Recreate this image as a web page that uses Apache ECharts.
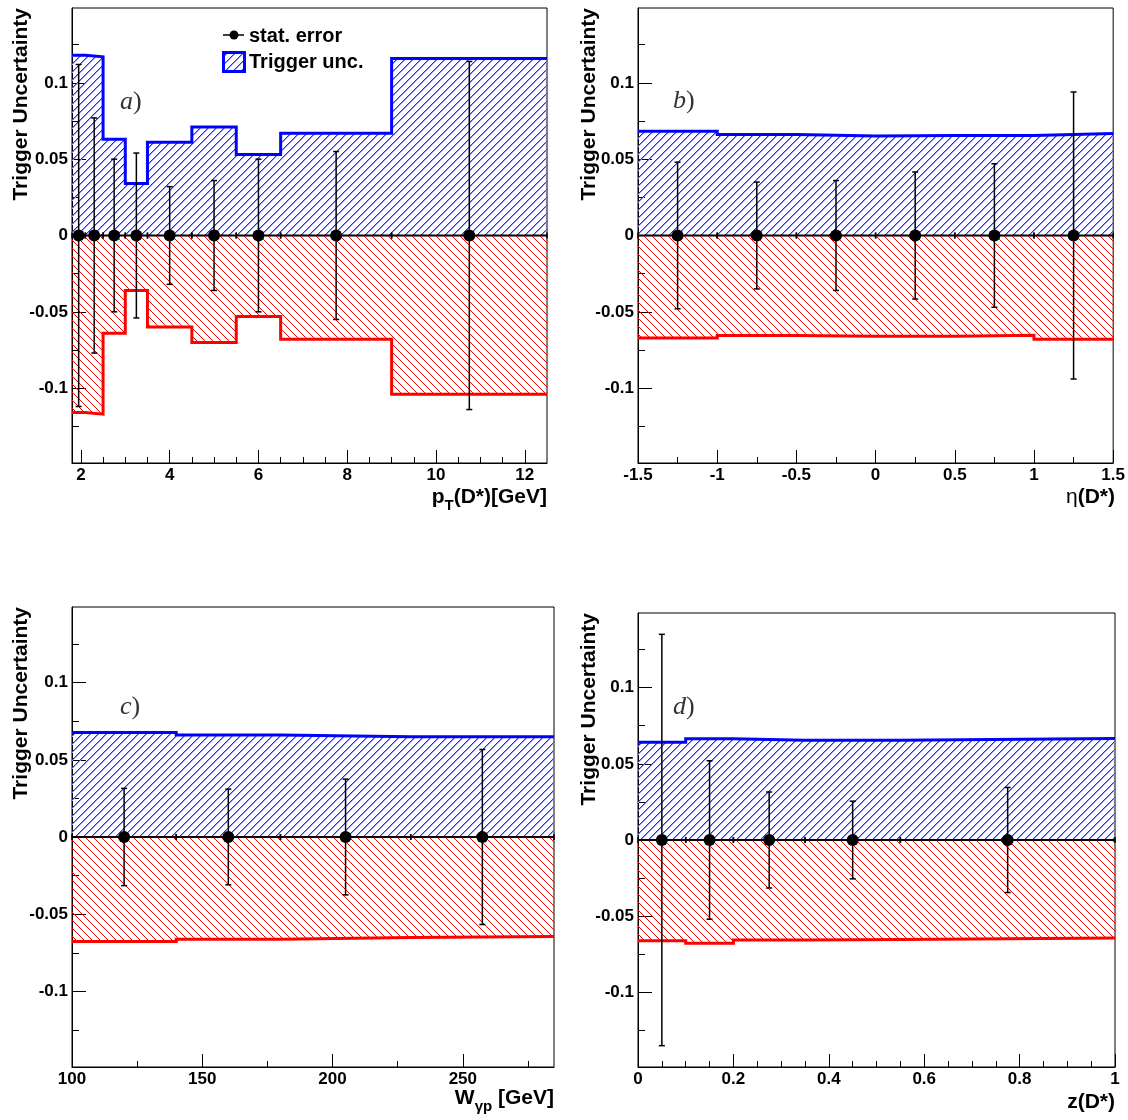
<!DOCTYPE html>
<html><head><meta charset="utf-8">
<script src="https://cdn.jsdelivr.net/npm/echarts@6/dist/echarts.min.js"></script>
<style>html,body{margin:0;padding:0;background:#fff}#c{width:1128px;height:1120px}</style>
</head><body><div id="c"></div>
<script>
// ---------- DATA ----------
// (a) pT(D*) [GeV]
const ptEdges   = [1.8, 2.1, 2.5, 3.0, 3.5, 4.5, 5.5, 6.5, 9.0, 12.5];
const ptCenters = [1.95, 2.3, 2.75, 3.25, 4.0, 5.0, 6.0, 7.75, 10.75];
const ptUp      = [0.118, 0.117, 0.063, 0.034, 0.061, 0.071, 0.053, 0.067, 0.116];
const ptDown    = [-0.116, -0.117, -0.064, -0.036, -0.060, -0.070, -0.053, -0.068, -0.104];
const ptStat    = [0.112, 0.077, 0.050, 0.054, 0.032, 0.036, 0.050, 0.055, 0.114];
// (b) eta(D*)
const etaEdges   = [-1.5, -1.0, -0.5, 0.0, 0.5, 1.0, 1.5];
const etaCenters = [-1.25, -0.75, -0.25, 0.25, 0.75, 1.25];
const etaUp      = [0.0683, 0.0662, 0.0651, 0.0655, 0.0655, 0.0668];
const etaDown    = [-0.0672, -0.0655, -0.0660, -0.0660, -0.0653, -0.0680];
const etaStat    = [0.048, 0.035, 0.036, 0.0416, 0.047, 0.094];
// (c) W_gp [GeV]
const wEdges   = [100, 140, 180, 230, 285];
const wCenters = [120, 160, 205, 257.5];
const wUp      = [0.0677, 0.0660, 0.0649, 0.0649];
const wDown    = [-0.0677, -0.0662, -0.0651, -0.0645];
const wStat    = [0.0315, 0.031, 0.0375, 0.0567];
// (d) z(D*)
const zEdges   = [0, 0.1, 0.2, 0.35, 0.55, 1.0];
const zCenters = [0.05, 0.15, 0.275, 0.45, 0.775];
const zUp      = [0.0642, 0.0664, 0.0655, 0.0655, 0.0666];
const zDown    = [-0.0662, -0.0677, -0.0657, -0.0653, -0.0644];
const zStat    = [0.135, 0.052, 0.0315, 0.0255, 0.0345];

// tick labels / positions
const yMajor = [-0.1, -0.05, 0, 0.05, 0.1];
const yMinor = [-0.125, -0.075, -0.025, 0.025, 0.075, 0.125];
const ptMajor = [2, 4, 6, 8, 10, 12];
const ptMinor = [2.5, 3, 3.5, 4.5, 5, 5.5, 6.5, 7, 7.5, 8.5, 9, 9.5, 10.5, 11, 11.5];
const etaMajor = [-1.5, -1, -0.5, 0, 0.5, 1, 1.5];
const etaMinor = [-1.25, -0.75, -0.25, 0.25, 0.75, 1.25];
const wMajor = [100, 150, 200, 250];
const wMinor = [125, 175, 225, 275];
const zMajor = [0, 0.2, 0.4, 0.6, 0.8, 1];
const zMinor = [0.05, 0.1, 0.15, 0.25, 0.3, 0.35, 0.45, 0.5, 0.55, 0.65, 0.7, 0.75, 0.85, 0.9, 0.95];

// ---------- STYLE ----------
const FONT = '"Liberation Sans", Arial, Helvetica, sans-serif';
const SERIF = '"Liberation Serif", "Times New Roman", serif';
const BLUE = '#0000ff', RED = '#ff0000';

// hatch tile: a crisp 1px diagonal plus a softer neighbour pixel
function makeHatch(color, soft, dir) {
  const s = 8, c = document.createElement('canvas');
  c.width = s; c.height = s;
  const g = c.getContext('2d');
  for (let i = 0; i < s; i++) {
    const y = dir === '/' ? s - 1 - i : i;
    g.fillStyle = color; g.fillRect(i, y, 1, 1);
    if (soft) { g.fillStyle = soft; g.fillRect(i, (y + 1) % s, 1, 1); }
  }
  return { image: c, repeat: 'repeat' };
}
const bluePat = makeHatch('#2a2aff', '#9494ff', '/');
const redPat = makeHatch(RED, null, '\\');
const bluePatLegend = makeHatch('#2a2aff', '#9494ff', '/');

const fmt = v => String(Math.round(v * 1000) / 1000);

const panels = [
  { edges: ptEdges, centers: ptCenters, up: ptUp, down: ptDown, stat: ptStat,
    xmin: 1.8, xmax: 12.5, major: ptMajor, minor: ptMinor,
    grid: { left: 72, top: 8, width: 475, height: 455 } },
  { edges: etaEdges, centers: etaCenters, up: etaUp, down: etaDown, stat: etaStat,
    xmin: -1.5, xmax: 1.5, major: etaMajor, minor: etaMinor,
    grid: { left: 638, top: 8, width: 477, height: 455 } },
  { edges: wEdges, centers: wCenters, up: wUp, down: wDown, stat: wStat,
    xmin: 100, xmax: 285, major: wMajor, minor: wMinor,
    grid: { left: 72, top: 607, width: 482, height: 460 } },
  { edges: zEdges, centers: zCenters, up: zUp, down: zDown, stat: zStat,
    xmin: 0, xmax: 1, major: zMajor, minor: zMinor,
    grid: { left: 638, top: 613, width: 477, height: 454 } }
];

function stepData(edges, vals) {
  const d = [];
  for (let i = 0; i < vals.length; i++) d.push([edges[i], vals[i]], [edges[i + 1], vals[i]]);
  return d;
}

function errRender(params, api) {
  const xc = api.value(0), e = api.value(1), lo = api.value(2), hi = api.value(3);
  const t = api.coord([xc, e]), b = api.coord([xc, -e]);
  const L = api.coord([lo, 0]), R = api.coord([hi, 0]);
  const cap = 3;
  const st = { stroke: '#000', lineWidth: 1.5 };
  return { type: 'group', children: [
    { type: 'line', shape: { x1: L[0], y1: L[1], x2: R[0], y2: R[1] }, style: { stroke: '#000', lineWidth: 2 } },
    { type: 'line', shape: { x1: L[0], y1: L[1] - cap, x2: L[0], y2: L[1] + cap }, style: st },
    { type: 'line', shape: { x1: R[0], y1: R[1] - cap, x2: R[0], y2: R[1] + cap }, style: st },
    { type: 'line', shape: { x1: t[0], y1: t[1], x2: b[0], y2: b[1] }, style: st },
    { type: 'line', shape: { x1: t[0] - cap, y1: t[1], x2: t[0] + cap, y2: t[1] }, style: st },
    { type: 'line', shape: { x1: b[0] - cap, y1: b[1], x2: b[0] + cap, y2: b[1] }, style: st }
  ]};
}

const grid = [], xAxis = [], yAxis = [], series = [];
const labelStyle = { fontFamily: FONT, fontWeight: 'bold', fontSize: 17, color: '#000' };

panels.forEach((p, i) => {
  grid.push(Object.assign({ show: true, borderColor: '#000', borderWidth: 1, backgroundColor: 'transparent' }, p.grid));
  xAxis.push({ type: 'value', gridIndex: i, min: p.xmin, max: p.xmax, position: 'bottom',
    axisLine: { show: true, onZero: false, lineStyle: { color: '#000', width: 1 } },
    axisTick: { show: true, inside: true, length: 13, customValues: p.major, lineStyle: { color: '#000', width: 1 } },
    axisLabel: Object.assign({ show: true, margin: 4, customValues: p.major, formatter: fmt, hideOverlap: false }, labelStyle),
    splitLine: { show: false } });
  xAxis.push({ type: 'value', gridIndex: i, min: p.xmin, max: p.xmax, position: 'bottom',
    axisLine: { show: false, onZero: false },
    axisTick: { show: true, inside: true, length: 6, customValues: p.minor, lineStyle: { color: '#000', width: 1 } },
    axisLabel: { show: false }, splitLine: { show: false } });
  yAxis.push({ type: 'value', gridIndex: i, min: -0.149, max: 0.149, position: 'left',
    axisLine: { show: true, onZero: false, lineStyle: { color: '#000', width: 1 } },
    axisTick: { show: true, inside: true, length: 14, customValues: yMajor, lineStyle: { color: '#000', width: 1 } },
    axisLabel: Object.assign({ show: true, margin: 4, customValues: yMajor, formatter: fmt, hideOverlap: false }, labelStyle),
    splitLine: { show: false } });
  yAxis.push({ type: 'value', gridIndex: i, min: -0.149, max: 0.149, position: 'left',
    axisLine: { show: false, onZero: false },
    axisTick: { show: true, inside: true, length: 7, customValues: yMinor, lineStyle: { color: '#000', width: 1 } },
    axisLabel: { show: false }, splitLine: { show: false } });

  const xi = 2 * i, yi = 2 * i;
  series.push({ type: 'line', xAxisIndex: xi, yAxisIndex: yi, data: stepData(p.edges, p.up),
    symbol: 'none', silent: true, z: 2, color: BLUE,
    lineStyle: { color: BLUE, width: 3, cap: 'butt', join: 'miter' },
    areaStyle: { color: bluePat, opacity: 1, origin: 'auto' } });
  series.push({ type: 'line', xAxisIndex: xi, yAxisIndex: yi, data: stepData(p.edges, p.down),
    symbol: 'none', silent: true, z: 2, color: RED,
    lineStyle: { color: RED, width: 3, cap: 'butt', join: 'miter' },
    areaStyle: { color: redPat, opacity: 1, origin: 'auto' } });
  series.push({ type: 'custom', xAxisIndex: xi, yAxisIndex: yi, z: 3, silent: true,
    renderItem: errRender, encode: { x: [0, 2, 3], y: 1 },
    data: p.centers.map((c, k) => [c, p.stat[k], p.edges[k], p.edges[k + 1]]) });
  series.push({ type: 'scatter', xAxisIndex: xi, yAxisIndex: yi, z: 4, silent: true,
    symbol: 'circle', symbolSize: 12, itemStyle: { color: '#000', opacity: 1 },
    data: p.centers.map(c => [c, 0]) });
});

// ---------- TEXT / LEGEND ----------
const graphic = [];
function yTitle(x, y) {
  graphic.push({ type: 'text', x: x, y: y, rotation: Math.PI / 2, silent: true,
    style: { text: 'Trigger Uncertainty', font: 'bold 21px ' + FONT, fill: '#000', align: 'right', verticalAlign: 'middle' } });
}
yTitle(21, 8); yTitle(589, 8); yTitle(21, 607); yTitle(589, 613);

const nStyle = { fontSize: 21, fontWeight: 'bold', fontFamily: FONT, fill: '#000' };
const sStyle = { fontSize: 15, fontWeight: 'bold', fontFamily: FONT, fill: '#000', padding: [18, 0, 0, 0] };
function xTitle(text, rich, x, y) {
  graphic.push({ type: 'text', x: x, y: y, silent: true,
    style: { text: text, rich: rich, fill: '#000', align: 'right', verticalAlign: 'middle' } });
}
xTitle('{n|p}{s|T}{n|(D*)[GeV]}', { n: nStyle, s: sStyle }, 547, 497);
xTitle('{g|η}{n|(D*)}', { n: nStyle, g: { fontSize: 21, fontFamily: FONT, fill: '#000' } }, 1115, 497);
xTitle('{n|W}{s|γp}{n| [GeV]}', { n: nStyle, s: sStyle }, 554, 1098);
xTitle('{n|z(D*)}', { n: nStyle }, 1115, 1102);

function letter(ch, x, y) {
  graphic.push({ type: 'text', x: x, y: y, silent: true,
    style: { text: '{i|' + ch + '}{p|)}', fill: '#333', align: 'left', verticalAlign: 'middle',
      rich: { i: { fontSize: 26, fontStyle: 'italic', fontFamily: SERIF, fill: '#333' },
              p: { fontSize: 26, fontFamily: SERIF, fill: '#333' } } } });
}
letter('a', 120, 102); letter('b', 673, 101); letter('c', 120, 707); letter('d', 673, 707);

// legend
graphic.push({ type: 'line', silent: true, shape: { x1: 223, y1: 35, x2: 244, y2: 35 }, style: { stroke: '#000', lineWidth: 1.5 } });
graphic.push({ type: 'circle', silent: true, shape: { cx: 234, cy: 35, r: 4.5 }, style: { fill: '#000' } });
graphic.push({ type: 'text', silent: true, x: 249, y: 36,
  style: { text: 'stat. error', font: 'bold 20px ' + FONT, fill: '#000', align: 'left', verticalAlign: 'middle' } });
graphic.push({ type: 'rect', silent: true, shape: { x: 223.5, y: 52.5, width: 21, height: 19 },
  style: { fill: bluePatLegend, stroke: BLUE, lineWidth: 3 } });
graphic.push({ type: 'text', silent: true, x: 249, y: 62,
  style: { text: 'Trigger unc.', font: 'bold 20px ' + FONT, fill: '#000', align: 'left', verticalAlign: 'middle' } });

const chart = echarts.init(document.getElementById('c'), null, { renderer: 'canvas' });
chart.setOption({ animation: false, backgroundColor: '#fff', grid, xAxis, yAxis, series, graphic });
</script></body></html>
